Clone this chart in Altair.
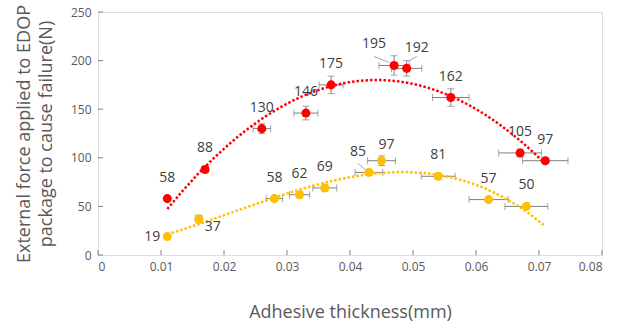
import altair as alt
import pandas as pd

# ---- data ----
red_x = [0.011, 0.017, 0.026, 0.033, 0.037, 0.047, 0.049, 0.056, 0.067, 0.071]
red_y = [58, 88, 130, 146, 175, 195, 192, 162, 105, 97]
red_xerr = [0, 0.0005, 0.0014, 0.0019, 0.0019, 0.0024, 0.0024, 0.0029, 0.0034, 0.0036]
red_yerr = [0, 3, 5, 7, 9, 10, 8, 9, 4, 3]

yel_x = [0.011, 0.016, 0.028, 0.032, 0.036, 0.043, 0.045, 0.054, 0.062, 0.068]
yel_y = [19, 37, 58, 62, 69, 85, 97, 81, 57, 50]
yel_xerr = [0, 0.0005, 0.0013, 0.0016, 0.0019, 0.0022, 0.0022, 0.0027, 0.0031, 0.0034]
yel_yerr = [0, 4, 2, 3, 3, 3, 5, 3, 0, 0]

x_ticks = [0, 0.01, 0.02, 0.03, 0.04, 0.05, 0.06, 0.07, 0.08]
y_ticks = [0, 50, 100, 150, 200, 250]

x_title = "Adhesive thickness(mm)"
y_title = ["External force applied to EDOP", "package to cause failure(N)"]

RED = "#FF0000"
YEL = "#FFC000"
GRAY = "#7F7F7F"
TXT = "#404040"
FONT = "Open Sans"
W, H = 504, 243

rows = []
for s, xs, ys, xe, ye in [("red", red_x, red_y, red_xerr, red_yerr),
                          ("yellow", yel_x, yel_y, yel_xerr, yel_yerr)]:
    for i in range(len(xs)):
        rows.append(dict(series=s, i=i, x=xs[i], y=ys[i],
                         xlo=xs[i] - xe[i], xhi=xs[i] + xe[i], xerr=xe[i],
                         ylo=ys[i] - ye[i], yhi=ys[i] + ye[i], yerr=ye[i]))
df = pd.DataFrame(rows)

xs = alt.Scale(domain=[0, 0.08], nice=False)
ys = alt.Scale(domain=[0, 250], nice=False)

base = alt.Chart(df)

# axes (no marks, only axis)
axes = alt.Chart(pd.DataFrame({"x": [0], "y": [0]})).mark_point(opacity=0).encode(
    x=alt.X("x:Q", scale=xs, title=x_title,
            axis=alt.Axis(values=x_ticks, format=".2~f", ticks=False, domain=False, grid=False,
                          labelPadding=6, labelFontSize=12, labelColor="#595959", labelFont=FONT,
                          titleFont=FONT, titleFontSize=18, titleFontWeight="normal",
                          titleColor="#595959", titleY=57, titleBaseline="middle")),
    y=alt.Y("y:Q", scale=ys, title=y_title,
            axis=alt.Axis(values=y_ticks, ticks=False, domain=False, grid=False,
                          labelPadding=7, labelFontSize=12, labelColor="#595959", labelFont=FONT,
                          titleFont=FONT, titleFontSize=18, titleFontWeight="normal",
                          titleColor="#595959", titleX=-74, titleY=H / 2,
                          titleBaseline="middle", titleLineHeight=22)),
)

# inward ticks
xt = alt.Chart(pd.DataFrame({"v": x_ticks})).mark_rule(color=GRAY, strokeWidth=1).encode(
    x=alt.X("v:Q", scale=xs), y=alt.value(H), y2=alt.value(H - 5))
yt = alt.Chart(pd.DataFrame({"v": y_ticks})).mark_rule(color=GRAY, strokeWidth=1).encode(
    y=alt.Y("v:Q", scale=ys), x=alt.value(0), x2=alt.value(5))

# error bars
xerr_rule = base.transform_filter("datum.xerr > 0").mark_rule(color=GRAY, strokeWidth=1).encode(
    x=alt.X("xlo:Q", scale=xs), x2="xhi:Q", y=alt.Y("y:Q", scale=ys))
xerr_cap_lo = base.transform_filter("datum.xerr > 0").mark_tick(
    color=GRAY, orient="vertical", size=7, thickness=1).encode(
    x=alt.X("xlo:Q", scale=xs), y=alt.Y("y:Q", scale=ys))
xerr_cap_hi = base.transform_filter("datum.xerr > 0").mark_tick(
    color=GRAY, orient="vertical", size=7, thickness=1).encode(
    x=alt.X("xhi:Q", scale=xs), y=alt.Y("y:Q", scale=ys))
yerr_rule = base.transform_filter("datum.yerr > 0").mark_rule(color=GRAY, strokeWidth=1).encode(
    x=alt.X("x:Q", scale=xs), y=alt.Y("ylo:Q", scale=ys), y2="yhi:Q")
yerr_cap_lo = base.transform_filter("datum.yerr > 0").mark_tick(
    color=GRAY, orient="horizontal", size=7, thickness=1).encode(
    x=alt.X("x:Q", scale=xs), y=alt.Y("ylo:Q", scale=ys))
yerr_cap_hi = base.transform_filter("datum.yerr > 0").mark_tick(
    color=GRAY, orient="horizontal", size=7, thickness=1).encode(
    x=alt.X("x:Q", scale=xs), y=alt.Y("yhi:Q", scale=ys))

# trendlines (polynomial fits computed by Vega-Lite)
def trend(series, order, color):
    return base.transform_filter(f"datum.series == '{series}'").transform_regression(
        "x", "y", method="poly", order=order, extent=[0.011, 0.071]
    ).mark_line(color=color, strokeWidth=2.5, strokeDash=[2.5, 2]).encode(
        x=alt.X("x:Q", scale=xs), y=alt.Y("y:Q", scale=ys))

tr_red = trend("red", 2, RED)
tr_yel = trend("yellow", 3, YEL)

pts = base.mark_circle(size=82, opacity=1).encode(
    x=alt.X("x:Q", scale=xs), y=alt.Y("y:Q", scale=ys),
    color=alt.Color("series:N", scale=alt.Scale(domain=["red", "yellow"], range=[RED, YEL]),
                    legend=None))

# leader lines
def leader(series, i, xo, yo, x2o, y2o):
    return base.transform_filter(f"datum.series == '{series}' && datum.i == {i}").mark_rule(
        color="#A6A6A6", strokeWidth=1, xOffset=xo, yOffset=yo, x2Offset=x2o, y2Offset=y2o
    ).encode(x=alt.X("x:Q", scale=xs), y=alt.Y("y:Q", scale=ys), x2="x:Q", y2="y:Q")

leaders = [leader("red", 5, -20, -9, -5, -3),
           leader("red", 6, 2, -7, 10, -12),
           leader("yellow", 5, -11, -9, -4, -3)]

# data labels
special = {("red", 5): (-20, -21), ("red", 6): (10, -20),
           ("yellow", 0): (-15, 0), ("yellow", 1): (14, 8),
           ("yellow", 5): (-11, -20), ("yellow", 6): (5, -16)}

def label_layer(filt, dx, dy):
    return base.transform_filter(filt).mark_text(
        dx=dx, dy=dy, font=FONT, fontSize=14, color=TXT, baseline="middle", align="center"
    ).encode(x=alt.X("x:Q", scale=xs), y=alt.Y("y:Q", scale=ys), text="y:Q")

spec_cond = " || ".join(f"(datum.series == '{s}' && datum.i == {i})" for (s, i) in special)
labels = [label_layer(f"!({spec_cond})", 0, -21)]
for (s, i), (dx, dy) in special.items():
    labels.append(label_layer(f"datum.series == '{s}' && datum.i == {i}", dx, dy))

chart = alt.layer(
    axes, xt, yt, xerr_rule, xerr_cap_lo, xerr_cap_hi, yerr_rule, yerr_cap_lo, yerr_cap_hi,
    tr_red, tr_yel, *leaders, pts, *labels
).properties(
    width=W, height=H,
    autosize=alt.AutoSizeParams(type="none"),
    padding={"left": 98, "top": 12, "right": 16, "bottom": 71},
).configure_view(stroke="#868686", strokeWidth=1).configure(background="white")

chart.save("out.html", embed_options={"renderer": "svg", "actions": False})
